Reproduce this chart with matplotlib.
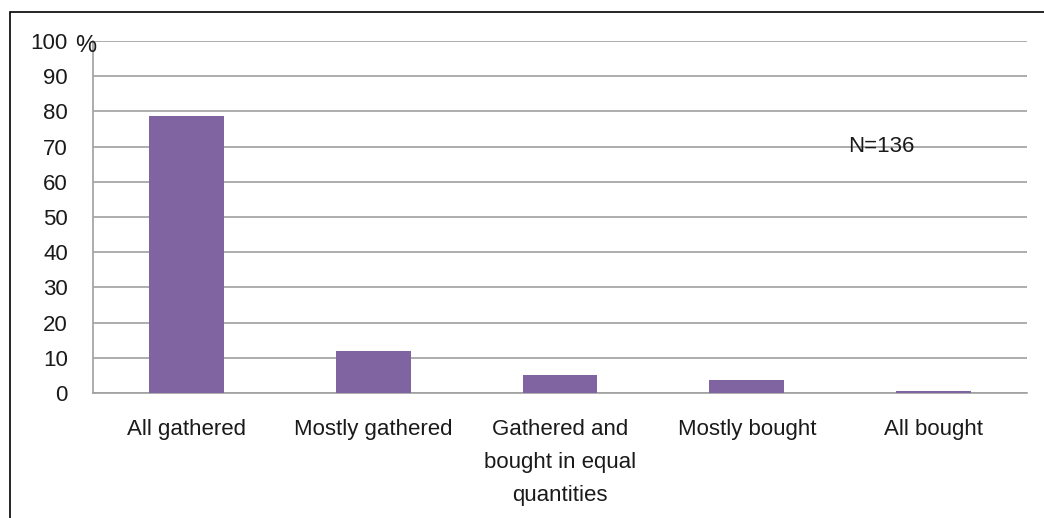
import matplotlib
matplotlib.use("Agg")
import matplotlib.pyplot as plt
from matplotlib.patches import Rectangle

categories = ["All gathered", "Mostly gathered", "Gathered and\nbought in equal\nquantities",
              "Mostly bought", "All bought"]
values = [78.7, 11.8, 5.1, 3.6, 0.7]
yticks = [0, 10, 20, 30, 40, 50, 60, 70, 80, 90, 100]

plt.rcParams["font.family"] = ["Liberation Sans", "DejaVu Sans"]
fs = 16

fig = plt.figure(figsize=(10.44, 5.18), dpi=100)
fig.patches.append(Rectangle((10 / 1044, -0.1), 1.2, 1 - 12 / 518 + 0.1, transform=fig.transFigure,
                             fill=False, edgecolor="black", linewidth=1.2))

ax = fig.add_axes([93 / 1044, 1 - 393 / 518, 934 / 1044, 352 / 518])
x = range(len(categories))
ax.bar(x, values, width=0.4, color="#8064A2", zorder=3)

ax.set_xlim(-0.5, len(categories) - 0.5)
ax.set_ylim(0, 100)
ax.set_yticks(yticks)
ax.set_yticklabels([str(t) for t in yticks], fontsize=fs, color="#1a1a1a")
ax.set_xticks(list(x))
ax.set_xticklabels(categories, fontsize=fs, color="#1a1a1a", linespacing=1.75, va="top")
ax.tick_params(axis="both", length=0)
ax.tick_params(axis="x", pad=19)
ax.tick_params(axis="y", pad=18)

ax.grid(axis="y", color="#A0A0A0", linewidth=1.2, zorder=0)
for side in ["top", "right"]:
    ax.spines[side].set_visible(False)
ax.spines["left"].set_color("#A0A0A0")
ax.spines["bottom"].set_color("#A0A0A0")
ax.spines["left"].set_linewidth(1.2)
ax.spines["bottom"].set_linewidth(1.2)

ax.text(-0.019, 0.985, "%", transform=ax.transAxes, fontsize=fs + 1, color="#1a1a1a",
        ha="left", va="center")
ax.text(0.808, 0.70, "N=136", transform=ax.transAxes, fontsize=fs, color="#1a1a1a",
        ha="left", va="center")

fig.savefig("out.png", dpi=100)
